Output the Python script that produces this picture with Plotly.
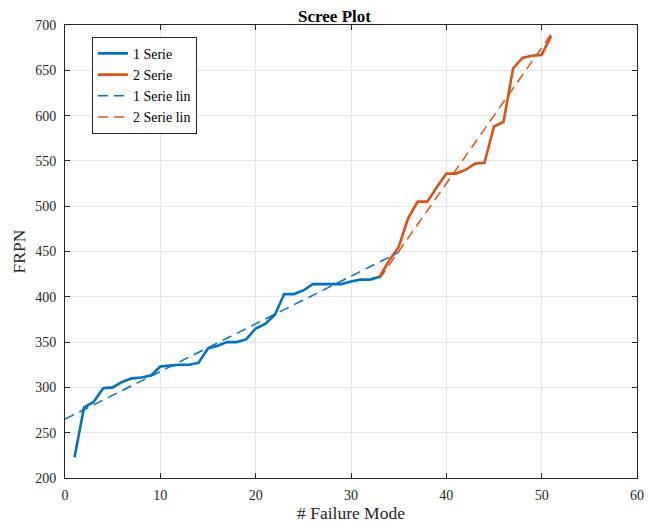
import plotly.graph_objects as go

x1 = list(range(1, 34))
y1 = [223, 278, 284, 299, 300, 306, 310, 311, 313, 323, 324, 325, 325, 327, 343, 346,
      350, 350, 353, 365, 370, 380, 403, 403, 407, 414, 414, 414, 414, 417, 419, 419, 422]
x2 = list(range(33, 52))
y2 = [422, 440, 455, 487, 505, 505, 521, 536, 536, 540, 547, 548, 588, 593, 652, 664, 666, 667, 688]
x1_lin = [0, 35]
y1_lin = [265, 449]
x2_lin = [33, 51]
y2_lin = [420, 690]

blue = "#0072BD"
orange = "#D95319"

fig = go.Figure()
fig.add_trace(go.Scatter(x=x1, y=y1, mode="lines", name="1 Serie", line=dict(color=blue, width=2.6)))
fig.add_trace(go.Scatter(x=x2, y=y2, mode="lines", name="2 Serie", line=dict(color=orange, width=2.6)))
fig.add_trace(go.Scatter(x=x1_lin, y=y1_lin, mode="lines", name="1 Serie lin",
                         line=dict(color=blue, width=1.5, dash="10px,6px")))
fig.add_trace(go.Scatter(x=x2_lin, y=y2_lin, mode="lines", name="2 Serie lin",
                         line=dict(color=orange, width=1.5, dash="10px,6px")))

axis_common = dict(showline=True, linecolor="#262626", linewidth=1, mirror="ticks",
                   ticks="inside", ticklen=5, tickcolor="#262626", automargin=False,
                   showgrid=True, gridcolor="#E6E6E6", gridwidth=1, zeroline=False,
                   tickfont=dict(family="Liberation Serif", size=14, color="#262626"))

# page body adds an 8px offset, so the figure is sized to fit the window
fig.update_layout(
    width=653, height=515,
    margin=dict(l=57, r=24, t=17, b=45),
    paper_bgcolor="white", plot_bgcolor="white",
    title=dict(text="<b>Scree Plot</b>", x=0.5, xanchor="center", y=0.984, yanchor="middle",
               font=dict(family="Liberation Serif", size=17, color="black")),
    xaxis=dict(range=[0, 60], dtick=10, ticklabelstandoff=4,
               title=dict(text="# Failure Mode", font=dict(family="Liberation Serif", size=17.5, color="#262626"), standoff=1),
               **axis_common),
    yaxis=dict(range=[200, 700], dtick=50, ticklabelstandoff=5,
               title=dict(text="FRPN", font=dict(family="Liberation Serif", size=17.5, color="#262626"), standoff=5),
               **axis_common),
    legend=dict(x=0.047, y=0.974, xanchor="left", yanchor="top",
                bgcolor="white", bordercolor="#262626", borderwidth=1,
                font=dict(family="Liberation Serif", size=14, color="black"),
                tracegroupgap=0, itemwidth=30),
    showlegend=True,
)

fig.write_html("out.html")
